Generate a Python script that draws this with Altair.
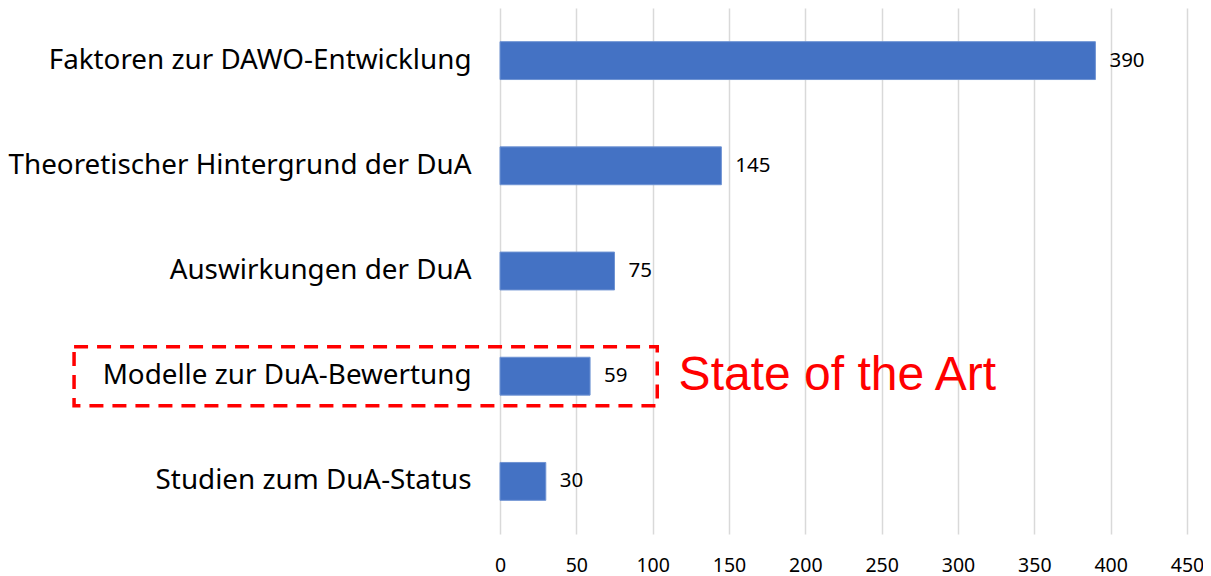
import altair as alt
import pandas as pd

categories = [
    "Faktoren zur DAWO-Entwicklung",
    "Theoretischer Hintergrund der DuA",
    "Auswirkungen der DuA",
    "Modelle zur DuA-Bewertung",
    "Studien zum DuA-Status",
]
values = [390, 145, 75, 59, 30]
x_ticks = [0, 50, 100, 150, 200, 250, 300, 350, 400, 450]

highlight_category = "Modelle zur DuA-Bewertung"
highlight_label = "State of the Art"
highlight_x_start = -279
highlight_x_end = 103
highlight_text_x = 117

df = pd.DataFrame({"cat": categories, "val": values})
hl = pd.DataFrame({"cat": [highlight_category], "x1": [highlight_x_start],
                   "x2": [highlight_x_end], "tx": [highlight_text_x],
                   "label": [highlight_label]})

LABEL_FONT = "Noto Sans"

yscale = alt.Scale(paddingInner=0.64, paddingOuter=0.32)
xscale = alt.Scale(domain=[0, 450])

bars = alt.Chart(df).mark_bar(color="#4472C4", stroke="#6F93D3", strokeWidth=1).encode(
    x=alt.X("val:Q", scale=xscale, title=None,
            axis=alt.Axis(values=x_ticks, labelFontSize=19.5, labelFont=LABEL_FONT,
                          labelColor="#000000", ticks=False, domain=False,
                          labelFlush=False, labelOverlap=False, grid=True,
                          gridColor="#D9D9D9", gridWidth=1.5, labelPadding=22)),
    y=alt.Y("cat:N", sort=categories, title=None, scale=yscale,
            axis=alt.Axis(labelFontSize=27.8, labelFont=LABEL_FONT, labelColor="#000000",
                          labelPadding=29, ticks=False, domain=False, grid=False,
                          labelLimit=600)),
)

text = alt.Chart(df).mark_text(align="left", baseline="middle", dx=14,
                               fontSize=20.5, font=LABEL_FONT, color="#000000").encode(
    x=alt.X("val:Q", scale=xscale),
    y=alt.Y("cat:N", sort=categories),
    text="val:Q",
)

box = alt.Chart(hl).mark_bar(filled=False, stroke="#FF0000", strokeWidth=3.5,
                             strokeDash=[14, 9], size=59, clip=False).encode(
    x=alt.X("x1:Q", scale=xscale),
    x2="x2:Q",
    y=alt.Y("cat:N", sort=categories),
)

label = alt.Chart(hl).mark_text(align="left", baseline="middle", fontSize=48,
                                font="Liberation Sans", color="#FF0000", clip=False).encode(
    x=alt.X("tx:Q", scale=xscale),
    y=alt.Y("cat:N", sort=categories),
    text="label:N",
)

chart = alt.layer(bars, text, box, label).properties(
    width=687, height=526,
    padding={"left": 492, "top": 0, "right": 16, "bottom": 42},
    autosize=alt.AutoSizeParams(type="none"),
    background="#FFFFFF",
).configure_view(stroke="transparent", strokeWidth=0)

chart.save("out.html", embed_options={"renderer": "svg", "actions": False})
